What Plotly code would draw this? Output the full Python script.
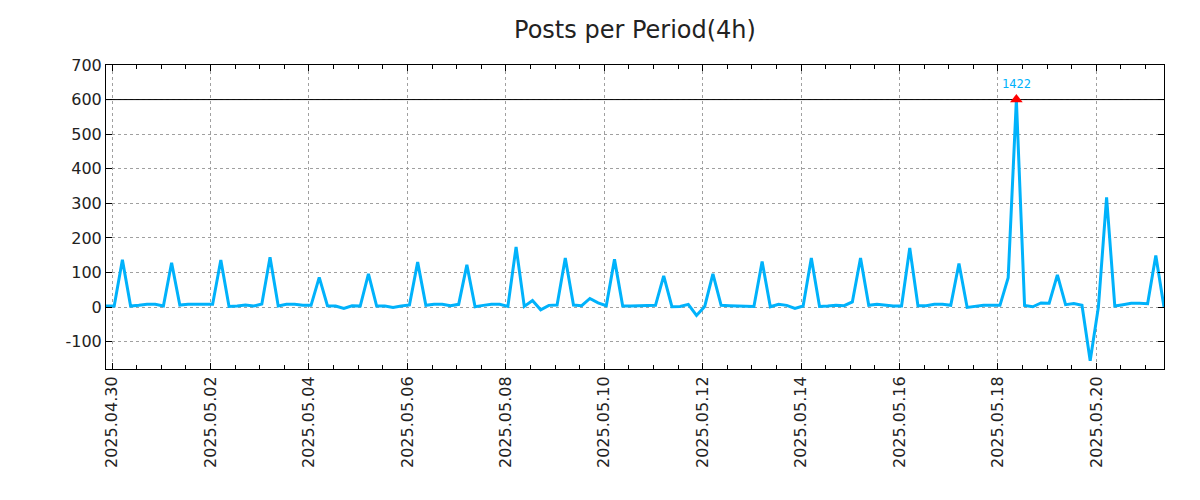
import plotly.graph_objects as go
import pandas as pd

# ---- data (4-hour bins starting 2025-04-29 21:00) ----
START = "2025-04-29 21:00"
END = "2025-05-21 09:00"
CAP = 600  # display cap; values above are drawn at the cap with a marker

posts = [
    3,                              # 04.29 21h
    3, 137, 3, 5, 8, 8,             # 04.30
    3, 128, 6, 8, 8, 8,             # 05.01
    8, 136, 2, 3, 6, 3,             # 05.02
    9, 144, 3, 8, 8, 5,             # 05.03
    5, 86, 4, 3, -4, 4,             # 05.04
    3, 96, 3, 3, -1, 3,             # 05.05
    6, 130, 5, 8, 8, 4,             # 05.06
    8, 122, 1, 5, 8, 8,             # 05.07
    2, 174, 2, 19, -8, 5,           # 05.08
    6, 142, 6, 4, 25, 12,           # 05.09
    4, 138, 3, 3, 3, 5,             # 05.10
    5, 90, 1, 2, 8, -24,            # 05.11
    2, 96, 5, 4, 3, 3,              # 05.12
    2, 132, 1, 8, 5, -4,            # 05.13
    3, 142, 2, 3, 5, 4,             # 05.14
    15, 142, 5, 8, 5, 3,            # 05.15
    3, 171, 4, 4, 8, 8,             # 05.16
    5, 126, -1, 3, 5, 5,            # 05.17
    5, 85, 1422, 5, 1, 12,          # 05.18
    11, 93, 7, 10, 5, -155,         # 05.19
    0, 317, 3, 7, 11, 11,           # 05.20
    10, 149, 0,                     # 05.21
]

x_tick_start = "2025-04-30"
x_tick_step_days = 2
x_minor_step_hours = 12
y_ticks = [-100, 0, 100, 200, 300, 400, 500, 600, 700]
y_range = [-179, 700]

TITLE = "Posts per Period(4h)"
LINE_COLOR = "#00b2fb"
TEXT_COLOR = "#222222"
FONT = "DejaVu Sans"

times = pd.date_range(START, periods=len(posts), freq="4h")
shown = [min(v, CAP) for v in posts]
over_t = [t for t, v in zip(times, posts) if v > CAP]
over_v = [v for v in posts if v > CAP]

fig = go.Figure()
# cap reference line
fig.add_trace(go.Scatter(
    x=[START, END], y=[CAP, CAP], mode="lines",
    line=dict(color="black", width=1), showlegend=False, hoverinfo="skip",
))
fig.add_trace(go.Scatter(
    x=times, y=shown, mode="lines",
    line=dict(color=LINE_COLOR, width=3),
    showlegend=False,
))
fig.add_trace(go.Scatter(
    x=over_t, y=[CAP] * len(over_t), mode="markers",
    marker=dict(symbol="triangle-up", size=11, color="red"),
    showlegend=False,
))
for t, v in zip(over_t, over_v):
    fig.add_annotation(
        x=t, y=CAP, text=str(v), showarrow=False, yshift=16,
        font=dict(family="DejaVu Sans Mono", size=12, color=LINE_COLOR),
    )

axis_common = dict(
    showline=True, linecolor="black", linewidth=1, mirror="ticks",
    ticks="inside", ticklen=6, tickcolor="black",
    showgrid=True, gridcolor="#a0a0a0", griddash="dot", gridwidth=1,
    zeroline=False,
    tickfont=dict(family=FONT, size=16, color=TEXT_COLOR),
)

fig.update_layout(
    width=1200, height=500,
    margin=dict(l=106, r=36, t=65, b=131),
    paper_bgcolor="white", plot_bgcolor="white",
    title=dict(text=TITLE, x=0.5, xref="paper", xanchor="center",
               y=1 - 30 / 500, yref="container", yanchor="middle",
               font=dict(family=FONT, size=24, color=TEXT_COLOR)),
    xaxis=dict(
        type="date", range=[START, END],
        tick0=x_tick_start, dtick=x_tick_step_days * 86400000,
        tickformat="%Y.%m.%d", tickangle=-90,
        minor=dict(ticks="inside", ticklen=4, tickcolor="black",
                   dtick=x_minor_step_hours * 3600000, showgrid=False),
        **axis_common,
    ),
    yaxis=dict(
        range=y_range, tickmode="array", tickvals=y_ticks,
        ticktext=[str(v) for v in y_ticks],
        **axis_common,
    ),
)

fig.write_html("out.html", config={"displayModeBar": False},
               post_script="document.body.style.margin='0';")
